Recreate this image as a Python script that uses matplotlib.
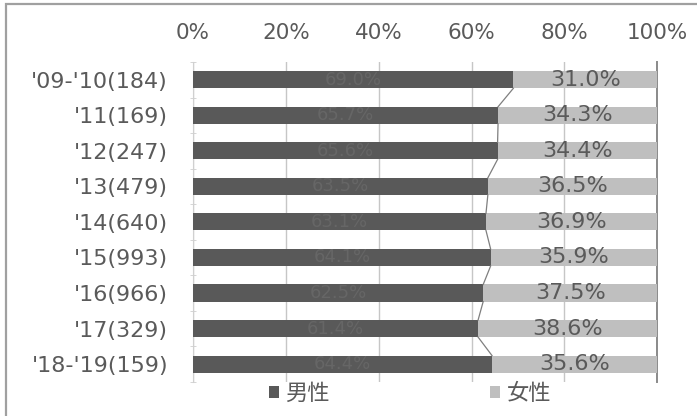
import numpy as np
import matplotlib
matplotlib.use('Agg')
from matplotlib import pyplot as plt
from matplotlib.patches import Rectangle

plt.rcParams['font.family'] = ['DejaVu Sans', 'Noto Sans CJK JP']

categories = ["'09-'10(184)", "'11(169)", "'12(247)", "'13(479)", "'14(640)",
              "'15(993)", "'16(966)", "'17(329)", "'18-'19(159)"]
female = [31.0, 34.3, 34.4, 36.5, 36.9, 35.9, 37.5, 38.6, 35.6]
male = [round(100 - f, 1) for f in female]
ticks = [0, 20, 40, 60, 80, 100]

c_male = '#595959'
c_female = '#bfbfbf'
c_text = '#5a5a5a'

fig = plt.figure(figsize=(6.97, 4.16), dpi=100)
# outer frame (right/bottom edges run off the canvas)
fig.patches.append(Rectangle((0.009, -0.05), 1.1, 1.04, transform=fig.transFigure,
                             fill=False, edgecolor='#a0a0a0', linewidth=1.6))
ax = fig.add_axes([0.277, 0.082, 0.666, 0.769])

y = np.arange(len(categories))
h = 0.48
ax.barh(y, male, height=h, color=c_male, label='男性', zorder=3)
ax.barh(y, female, left=male, height=h, color=c_female, label='女性', zorder=3)

# series lines between the male/female boundaries
for i in range(len(y) - 1):
    ax.plot([male[i], male[i + 1]], [y[i] + h / 2, y[i + 1] - h / 2],
            color='#7f7f7f', linewidth=0.9, zorder=4)

for i in range(len(y)):
    ax.text(male[i] / 2, y[i], f'{male[i]:.1f}%', ha='center', va='center',
            fontsize=13, color='#666666', zorder=5)
    ax.text(male[i] + female[i] / 2, y[i], f'{female[i]:.1f}%', ha='center',
            va='center', fontsize=16, color=c_text, zorder=5)

ax.set_xlim(0, 100)
ax.set_ylim(len(y) - 0.5, -0.5)
ax.set_xticks(ticks)
ax.set_xticklabels([f'{t}%' for t in ticks], fontsize=15.5, color=c_text)
ax.xaxis.tick_top()
ax.tick_params(axis='x', length=0, pad=14)
ax.set_yticks(y)
ax.set_yticklabels(categories, fontsize=16, color=c_text)
ax.tick_params(axis='y', length=0, pad=18)
# category boundary ticks on the left axis
ax.set_yticks(np.arange(len(y) + 1) - 0.5, minor=True)
ax.tick_params(axis='y', which='minor', length=4, direction='inout', color='#cfcfcf')
ax.grid(axis='x', color='#c6c6c6', linewidth=1.0, zorder=0)
for s in ['top', 'bottom']:
    ax.spines[s].set_visible(False)
ax.spines['left'].set_color('#d0d0d0')
ax.spines['right'].set_color('#8a8a8a')
ax.spines['right'].set_linewidth(1.4)

fig.legend(loc='center', bbox_to_anchor=(0.588, 0.055), ncol=2, frameon=False,
           fontsize=16, labelcolor=c_text, handlelength=0.45, handleheight=0.45,
           handletextpad=0.3, columnspacing=7.2, borderpad=0)

fig.savefig('out.png', dpi=100)
